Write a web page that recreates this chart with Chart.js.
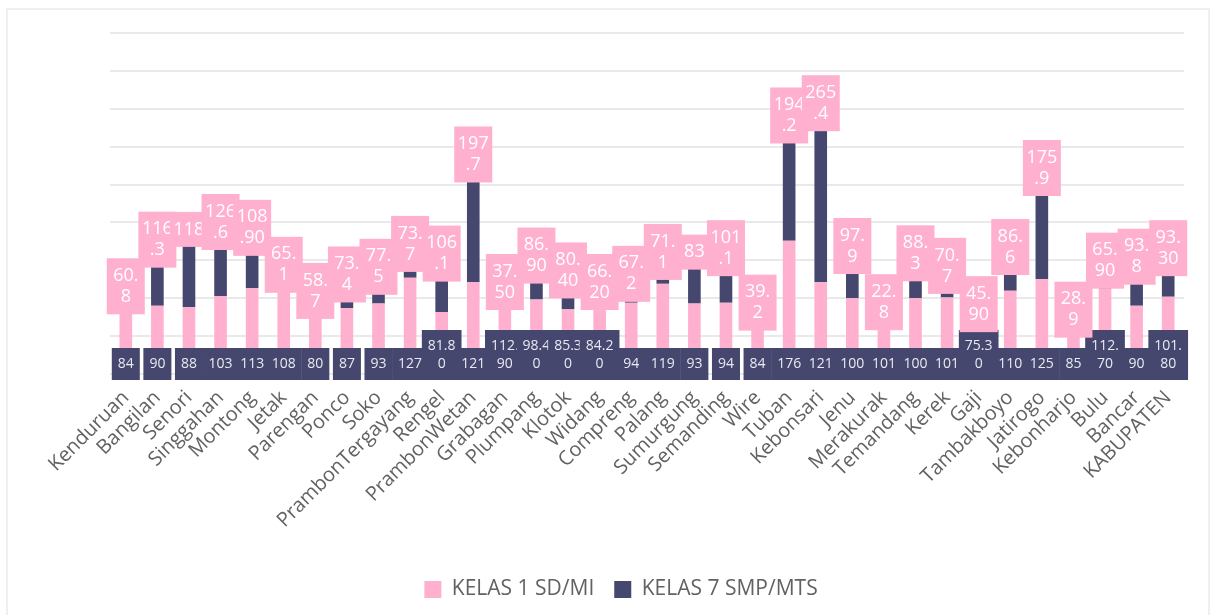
<!DOCTYPE html>
<html>
<head>
<meta charset="utf-8">
<script src="https://cdn.jsdelivr.net/npm/chart.js@4.4.1/dist/chart.umd.min.js"></script>
<style>
  body { margin: 0; background: #fff; }
  #frame { position: absolute; left: 6px; top: 8px; width: 1200px; height: 620px; border: 2px solid #efefef; }
  #myChart { position: absolute; left: 0; top: 0; }
</style>
</head>
<body>
<div id="frame"></div>
<canvas id="myChart" width="1212" height="615"></canvas>
<script>
// Categories (kecamatan)
var categories = ['Kenduruan', 'Bangilan', 'Senori', 'Singgahan', 'Montong', 'Jetak', 'Parengan', 'Ponco', 'Soko',
    'PrambonTergayang', 'Rengel', 'PrambonWetan', 'Grabagan', 'Plumpang', 'Klotok', 'Widang', 'Compreng', 'Palang',
    'Sumurgung', 'Semanding', 'Wire', 'Tuban', 'Kebonsari', 'Jenu', 'Merakurak', 'Temandang', 'Kerek', 'Gaji',
    'Tambakboyo', 'Jatirogo', 'Kebonharjo', 'Bulu', 'Bancar', 'KABUPATEN'];

// Series values, kept as text so the labels read like the source
var kelas1 = ['84', '90', '88', '103', '113', '108', '80', '87', '93', '127', '81.80', '121', '112.90', '98.40',
    '85.30', '84.20', '94', '119', '93', '94', '84', '176', '121', '100', '101', '100', '101', '75.30', '110',
    '125', '85', '112.70', '90', '101.80'];
var kelas7 = ['60.8', '116.3', '118', '126.6', '108.90', '65.1', '58.7', '73.4', '77.5', '73.7', '106.1', '197.7',
    '37.50', '86.90', '80.40', '66.20', '67.2', '71.1', '83', '101.1', '39.2', '194.2', '265.4', '97.9', '22.8',
    '88.3', '70.7', '45.90', '86.6', '175.9', '28.9', '65.90', '93.8', '93.30'];

var PINK = '#ffb0cf';
var NAVY = '#46476f';

// split a label into lines of n characters, like the wrapped boxes
function wrap(txt, n) {
    var lines = [];
    for (var i = 0; i < txt.length; i += n) {
        lines.push(txt.slice(i, i + n));
    }
    return lines;
}

// Draw the boxed data labels
var boxLabels = {
    id: 'boxLabels',
    afterDatasetsDraw: function(chart) {
        var ctx = chart.ctx;
        var yScale = chart.scales.y;
        var base = yScale.getPixelForValue(0);
        var bottomBars = chart.getDatasetMeta(0).data;
        var topBars = chart.getDatasetMeta(1).data;
        ctx.save();
        ctx.textAlign = 'center';
        ctx.textBaseline = 'middle';

        // navy boxes at the base
        ctx.font = '14px "Open Sans"';
        bottomBars.forEach(function(bar, i) {
            var lines = wrap(kelas1[i], 4);
            var w = 0;
            lines.forEach(function(l) { w = Math.max(w, ctx.measureText(l).width); });
            w += 12;
            var h = lines.length * 18 + 14;
            var bottom = base + 6;
            ctx.fillStyle = NAVY;
            ctx.fillRect(bar.x - w / 2, bottom - h, w, h);
            ctx.fillStyle = '#e9e9f1';
            lines.forEach(function(l, k) {
                ctx.fillText(l, bar.x, bottom - h + 7 + 9 + k * 18);
            });
        });

        // pink boxes at the top of each stack
        ctx.font = '18px "Open Sans"';
        topBars.forEach(function(bar, i) {
            var lines = wrap(kelas7[i], 3);
            var w = 38;
            var h = lines.length * 21 + 14;
            var top = bar.y - 6;
            ctx.fillStyle = PINK;
            ctx.fillRect(bar.x - w / 2, top, w, h);
            ctx.fillStyle = '#ffffff';
            lines.forEach(function(l, k) {
                ctx.fillText(l, bar.x, top + 7 + 10.5 + k * 21);
            });
        });
        ctx.restore();
    }
};

var ctx = document.getElementById('myChart').getContext('2d');

var chartData = {
    labels: categories,
    datasets: [{
        label: 'KELAS 1 SD/MI',
        data: kelas1.map(Number),
        backgroundColor: PINK,
        borderWidth: 0,
        barPercentage: 0.5,
        categoryPercentage: 0.8
    }, {
        label: 'KELAS 7 SMP/MTS',
        data: kelas7.map(Number),
        backgroundColor: NAVY,
        borderWidth: 0,
        barPercentage: 0.5,
        categoryPercentage: 0.8
    }]
};

var chartOptions = {
    responsive: false,
    animation: false,
    layout: {
        padding: { top: 33, left: 58, right: 28, bottom: 5 }
    },
    scales: {
        x: {
            stacked: true,
            grid: { display: false },
            border: { display: false },
            ticks: {
                autoSkip: false,
                minRotation: 45,
                maxRotation: 45,
                padding: 4,
                labelOffset: 0,
                color: '#626262',
                font: { family: 'Open Sans', size: 20 }
            },
            afterFit: function(scale) { scale.height = 185; }
        },
        y: {
            stacked: true,
            min: 0,
            max: 450,
            ticks: { display: false, stepSize: 50 },
            grid: { color: '#e9e9e9', lineWidth: 2, drawTicks: false },
            border: { display: false },
            afterFit: function(scale) { scale.width = 52; }
        }
    },
    plugins: {
        legend: {
            position: 'bottom',
            labels: {
                boxWidth: 17,
                boxHeight: 17,
                padding: 20,
                color: '#626262',
                font: { family: 'Open Sans', size: 21 }
            }
        },
        tooltip: { enabled: false }
    }
};

var myChart = new Chart(ctx, {
    type: 'bar',
    data: chartData,
    options: chartOptions,
    plugins: [boxLabels]
});
</script>
</body>
</html>
